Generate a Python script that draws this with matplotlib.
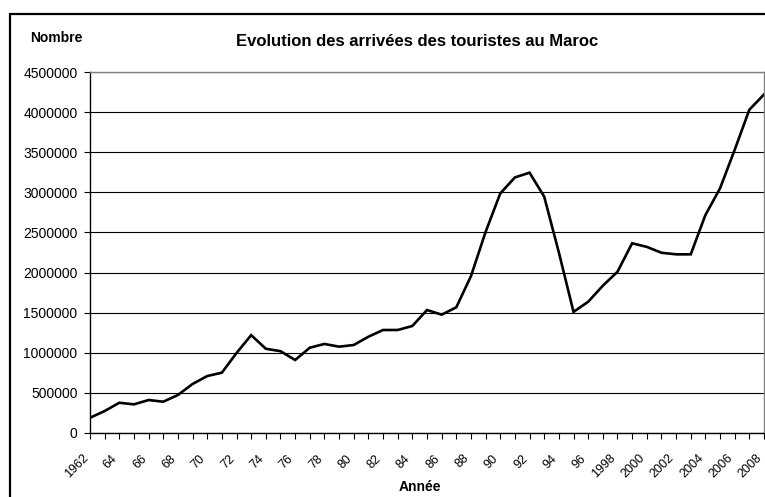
import matplotlib
matplotlib.use('Agg')
import matplotlib.pyplot as plt
import matplotlib.transforms as mtransforms
from matplotlib.patches import Rectangle
from matplotlib.ticker import FixedLocator, MultipleLocator

# Arrivées des touristes au Maroc
years = list(range(1962, 2009))
arrivals = [
    190000, 274000, 377000, 357000, 411000, 390000, 474000, 611000, 710000, 752000,
    997000, 1220000, 1050000, 1020000, 910000, 1063000, 1110000, 1076000, 1097000, 1200000,
    1284000, 1284000, 1334000, 1533000, 1475000, 1567000, 1955000, 2507000, 2986000, 3186000,
    3245000, 2946000, 2250000, 1510000, 1636000, 1836000, 2010000, 2365000, 2320000, 2247000,
    2227000, 2227000, 2717000, 3050000, 3530000, 4030000, 4220000,
]
label_years = list(range(1962, 2009, 2))
label_text = [str(y) if y in (1962,) or y >= 1998 else f'{y % 100:02d}' for y in label_years]

plt.rcParams['font.family'] = ['Liberation Sans', 'DejaVu Sans']

fig = plt.figure(figsize=(7.65, 4.97), dpi=100)
ax = fig.add_axes([90 / 765, 64 / 497, 674 / 765, 361 / 497])

ax.plot(years, arrivals, color='black', linewidth=1.9, solid_joinstyle='miter')

ax.set_xlim(1962, 2008)
ax.set_ylim(0, 4500000)

ax.yaxis.set_major_locator(MultipleLocator(500000))
ax.yaxis.set_major_formatter(matplotlib.ticker.FuncFormatter(lambda v, p: f'{int(v)}'))
ax.grid(axis='y', color='black', linewidth=0.8)
ax.set_axisbelow(True)

ax.xaxis.set_major_locator(FixedLocator(label_years))
ax.set_xticklabels(label_text, rotation=45, ha='right', va='top',
                   rotation_mode='anchor', fontsize=9)
ax.xaxis.set_minor_locator(FixedLocator(years))

ax.tick_params(axis='both', which='both', direction='out', length=4, width=0.8,
               color='black')
ax.tick_params(axis='y', labelsize=10, pad=5)
ax.tick_params(axis='x', which='major', pad=2)

# décaler les étiquettes de l'axe x comme dans Excel
shift = mtransforms.ScaledTranslation(-8 / 100, -11 / 100, fig.dpi_scale_trans)
for lbl in ax.get_xticklabels():
    lbl.set_transform(lbl.get_transform() + shift)

for side in ('top', 'right'):
    ax.spines[side].set_color('#808080')
    ax.spines[side].set_linewidth(1.0)
for side in ('left', 'bottom'):
    ax.spines[side].set_color('black')
    ax.spines[side].set_linewidth(1.0)

fig.text(417 / 765, 1 - 45.7 / 497, 'Evolution des arrivées des touristes au Maroc',
         ha='center', va='baseline', fontsize=12, fontweight='bold')
fig.text(30 / 765, 1 - 41.7 / 497, 'Nombre', ha='left', va='baseline',
         fontsize=10, fontweight='bold')
fig.text(420 / 765, 1 - 490.7 / 497, 'Année', ha='center', va='baseline',
         fontsize=10, fontweight='bold')

# Cadre du graphique (coupé à droite et en bas)
fig.patches.append(Rectangle((10 / 765, -0.1), 1.2, 1 - 14 / 497 + 0.1,
                             transform=fig.transFigure, fill=False,
                             edgecolor='black', linewidth=1.6, zorder=0))

fig.savefig('out.png', dpi=100, facecolor='white')
